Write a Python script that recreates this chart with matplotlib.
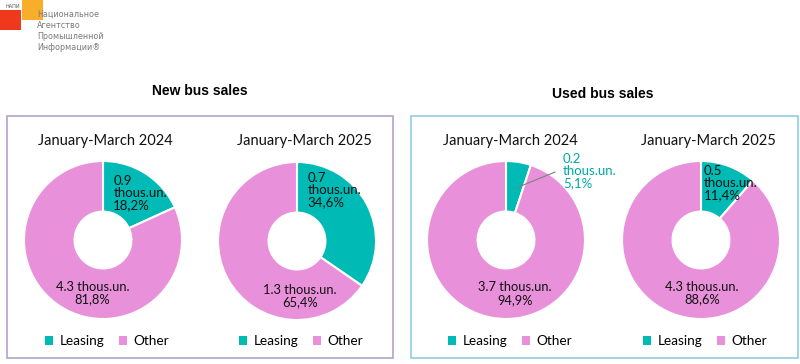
import matplotlib
matplotlib.use("Agg")
import matplotlib.pyplot as plt
from matplotlib.patches import Rectangle

# ---- data ----
categories = ["Leasing", "Other"]
panel_titles = ["New bus sales", "Used bus sales"]
period_labels = ["January-March 2024", "January-March 2025"]
new_leasing_pct = [18.2, 34.6]
new_other_pct = [81.8, 65.4]
new_leasing_th = ["0.9", "0.7"]
new_other_th = ["4.3", "1.3"]
used_leasing_pct = [5.1, 11.4]
used_other_pct = [94.9, 88.6]
used_leasing_th = ["0.2", "0.5"]
used_other_th = ["3.7", "4.3"]

# ---- style ----
W, H = 800, 364
C_LEASE = "#00BBB5"
C_OTHER = "#E891DA"
FONT = "Lato"

fig = plt.figure(figsize=(W / 100, H / 100), dpi=100)

def fx(x):
    return x / W

def fy(y):
    return 1 - y / H

# panel boxes
fig.add_artist(Rectangle((fx(7), fy(358)), fx(393 - 7), (358 - 116) / H,
                         transform=fig.transFigure, fill=False,
                         edgecolor="#B3A2CC", lw=1.2))
fig.add_artist(Rectangle((fx(411), fy(358)), fx(798 - 411), (358 - 116) / H,
                         transform=fig.transFigure, fill=False,
                         edgecolor="#92CDE0", lw=1.2))

fig.text(fx(200), fy(91), panel_titles[0], ha="center", va="center",
         fontsize=10, fontweight="bold", family="Liberation Sans")
fig.text(fx(603), fy(94), panel_titles[1], ha="center", va="center",
         fontsize=10, fontweight="bold", family="Liberation Sans")

# logo
fig.add_artist(Rectangle((fx(0), fy(30)), fx(21), 20 / H, transform=fig.transFigure,
                         color="#F0391C", lw=0))
fig.add_artist(Rectangle((fx(22), fy(20)), fx(21), 20 / H, transform=fig.transFigure,
                         color="#F8AE2B", lw=0))
fig.text(fx(5), fy(6), "НАПИ", fontsize=3.5, color="#555555", va="center",
         family="DejaVu Sans")
fig.text(fx(37), fy(31), "Национальное\nАгентство\nПромышленной\nИнформации®",
         fontsize=5.8, color="#7a7a7a", va="center", ha="left",
         family="DejaVu Sans", linespacing=1.3)

# layout: (cx, cy) in px, title center x, leasing label pos, other label pos
charts = [
    dict(cx=103, cy=240, tx=105, lease=new_leasing_pct[0], other=new_other_pct[0],
         lth=new_leasing_th[0], oth=new_other_th[0], period=period_labels[0],
         lpos=(0.13, 0.59), opos=(-0.13, -0.67), outside=False),
    dict(cx=297, cy=241, tx=304, lease=new_leasing_pct[1], other=new_other_pct[1],
         lth=new_leasing_th[1], oth=new_other_th[1], period=period_labels[1],
         lpos=(0.13, 0.64), opos=(0.04, -0.70), outside=False),
    dict(cx=506, cy=240, tx=510, lease=used_leasing_pct[0], other=used_other_pct[0],
         lth=used_leasing_th[0], oth=used_other_th[0], period=period_labels[0],
         lpos=(0.72, 0.87), opos=(0.11, -0.68), outside=True),
    dict(cx=701, cy=240, tx=708, lease=used_leasing_pct[1], other=used_other_pct[1],
         lth=used_leasing_th[1], oth=used_other_th[1], period=period_labels[1],
         lpos=(0.03, 0.72), opos=(0.01, -0.67), outside=False),
]
R = 79

def fmt(p):
    return f"{p:.1f}".replace(".", ",") + "%"

for c in charts:
    ax = fig.add_axes([fx(c["cx"] - R), fy(c["cy"] + R), 2 * R / W, 2 * R / H])
    wedges, _ = ax.pie([c["lease"], c["other"]], colors=[C_LEASE, C_OTHER],
                       startangle=90, counterclock=False, radius=1,
                       wedgeprops=dict(width=0.64, edgecolor="white", linewidth=1.5))
    ax.set_xlim(-1, 1)
    ax.set_ylim(-1, 1)
    ax.set_aspect("equal")
    ax.axis("off")
    lx, ly = c["lpos"]
    ltxt = f"{c['lth']}\nthous.un.\n{fmt(c['lease'])}"
    if c["outside"]:
        ax.text(lx, ly, ltxt, ha="left", va="center", fontsize=9.5, color="#00A9A4",
                family=FONT, linespacing=1.0, clip_on=False)
        ax.plot([0.13, 0.62], [0.66, 0.86], color="#7F7F7F", lw=0.8, clip_on=False)
    else:
        ax.text(lx, ly, ltxt, ha="left", va="center", fontsize=9.5, color="#111111",
                family=FONT, linespacing=1.0)
    ox, oy = c["opos"]
    ax.text(ox, oy, f"{c['oth']} thous.un.\n{fmt(c['other'])}", ha="center",
            va="center", fontsize=9.3, color="#111111", family=FONT, linespacing=1.05)
    fig.text(fx(c["tx"]), fy(141), c["period"], ha="center", va="center",
             fontsize=10.5, family=FONT, color="#111111")
    leg = fig.legend(wedges, categories, loc="center",
                     bbox_to_anchor=(fx(c["cx"] + 4), fy(341)),
                     ncol=2, frameon=False, handlelength=0.6, handleheight=0.6,
                     handletextpad=0.45, columnspacing=1.1,
                     prop=dict(family=FONT, size=9.8))
    for h in leg.legend_handles:
        h.set_edgecolor("none")

fig.savefig("out.png", dpi=100)
